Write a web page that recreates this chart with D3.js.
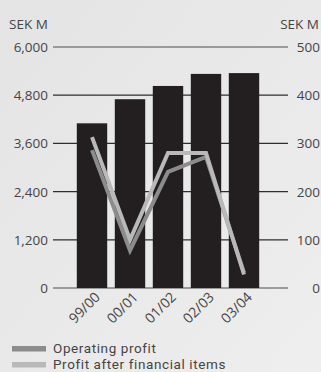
<!DOCTYPE html>
<html>
<head>
<meta charset="utf-8">
<script src="https://cdnjs.cloudflare.com/ajax/libs/d3/7.8.5/d3.min.js"></script>
<style>
body { margin: 0; background: #e7e7e7; }
#chart { width: 321px; height: 372px; }
text { font-family: "Open Sans", "Noto Sans", sans-serif; fill: #454545; }
text.leg { font-family: Roboto, "Open Sans", sans-serif; letter-spacing: 0.6px; }
</style>
</head>
<body>
<div id="chart"></div>
<script>
var years = ["99/00", "00/01", "01/02", "02/03", "03/04"];
var sales = [4100, 4700, 5030, 5330, 5350];
var operatingProfit = [286, 78, 241, 272, 32];
var profitAfterFin = [313, 100, 280, 280, 28];
var leftTicks = [0, 1200, 2400, 3600, 4800, 6000];
var rightTicks = [0, 100, 200, 300, 400, 500];

var W = 321, H = 372;
var svg = d3.select("#chart").append("svg").attr("width", W).attr("height", H);

var grad = svg.append("defs").append("linearGradient")
    .attr("id", "bg").attr("x1", "0").attr("y1", "0").attr("x2", "1").attr("y2", "1");
grad.append("stop").attr("offset", "0").attr("stop-color", "#e4e4e4");
grad.append("stop").attr("offset", "1").attr("stop-color", "#eeeeee");
svg.append("rect").attr("width", W).attr("height", H).attr("fill", "url(#bg)");

var x = d3.scaleBand().domain(years).range([73, 263]).paddingInner(0.2).paddingOuter(0.1);
var yL = d3.scaleLinear().domain([0, 6000]).range([288, 47]);
var yR = d3.scaleLinear().domain([0, 500]).range([288, 47]);

// gridlines
svg.selectAll(".grid").data(leftTicks).enter().append("line")
    .attr("x1", 53).attr("x2", 288)
    .attr("y1", function (d) { return yL(d); })
    .attr("y2", function (d) { return yL(d); })
    .attr("stroke", function (d) { return (d === 0 || d === 6000) ? "#808080" : "#2e2e2e"; })
    .attr("stroke-width", 1.3);

// tick labels
svg.selectAll(".tl").data(leftTicks).enter().append("text")
    .attr("x", 48).attr("y", function (d) { return yL(d) + 5; })
    .attr("text-anchor", "end").style("font-size", "13.5px")
    .text(function (d) { return d3.format(",")(d); });
svg.selectAll(".tr").data(rightTicks).enter().append("text")
    .attr("x", 320).attr("y", function (d) { return yR(d) + 5; })
    .attr("text-anchor", "end").style("font-size", "13.5px")
    .text(function (d) { return d; });

svg.append("text").attr("x", 9).attr("y", 29).style("font-size", "13.5px").text("SEK M");
svg.append("text").attr("x", 319).attr("y", 29).attr("text-anchor", "end").style("font-size", "13.5px").text("SEK M");

// bars
svg.selectAll(".bar").data(sales).enter().append("rect")
    .attr("x", function (d, i) { return x(years[i]); })
    .attr("width", x.bandwidth())
    .attr("y", function (d) { return yL(d); })
    .attr("height", function (d) { return yL(0) - yL(d); })
    .attr("fill", "#231f20");

var line = d3.line()
    .x(function (d, i) { return x(years[i]) + x.bandwidth() / 2; })
    .y(function (d) { return yR(d); });

svg.append("path").datum(operatingProfit).attr("d", line)
    .attr("fill", "none").attr("stroke", "#8c8c8c").attr("stroke-width", 4);
svg.append("path").datum(profitAfterFin).attr("d", line)
    .attr("fill", "none").attr("stroke", "#b9b9b9").attr("stroke-width", 4);

// x labels
svg.selectAll(".xl").data(years).enter().append("text")
    .attr("transform", function (d) {
        return "translate(" + (x(d) + x.bandwidth() / 2 + 9) + ",298) rotate(-45)";
    })
    .attr("text-anchor", "end").style("font-size", "14px")
    .text(function (d) { return d; });

// legend
var legend = [["Operating profit", "#8c8c8c"], ["Profit after financial items", "#b9b9b9"]];
legend.forEach(function (l, i) {
    svg.append("rect").attr("x", 12).attr("y", 346 + i * 16).attr("width", 34).attr("height", 5.5).attr("fill", l[1]);
    svg.append("text").attr("class", "leg").attr("x", 53).attr("y", 352.5 + i * 16)
        .style("font-size", "13.5px").text(l[0]);
});
</script>
</body>
</html>
